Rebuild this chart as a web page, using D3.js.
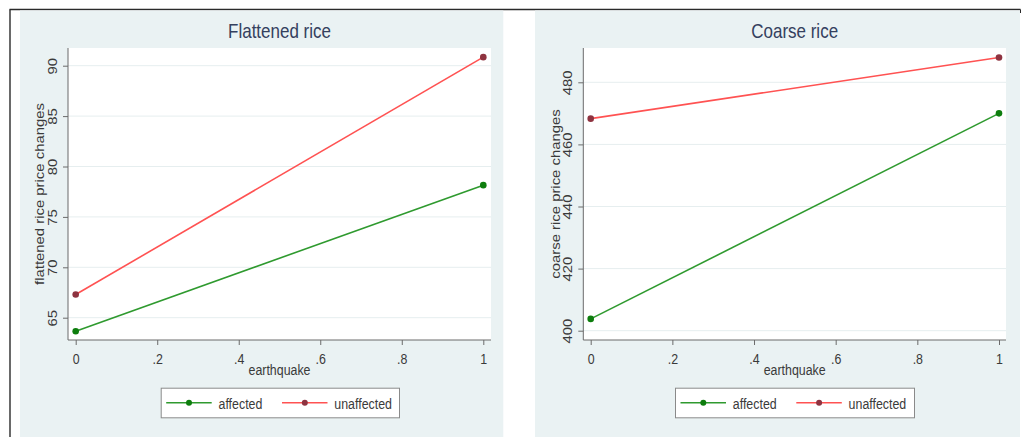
<!DOCTYPE html>
<html><head><meta charset="utf-8">
<script src="https://cdn.jsdelivr.net/npm/d3@7"></script>
<style>body{margin:0;background:#fff;} svg text{font-family:"Liberation Sans",Arial,sans-serif;}</style>
</head><body><svg id="c" width="1021" height="437"></svg>
<script>
// ---- data ----
const earthquake = [0, 1];
const xTickValues = [0, 0.2, 0.4, 0.6, 0.8, 1];
const xTickLabels = ["0", ".2", ".4", ".6", ".8", "1"];
const seriesNames = ["affected", "unaffected"];
const panelTitles = ["Flattened rice", "Coarse rice"];
const yAxisTitles = ["flattened rice price changes", "coarse rice price changes"];
const xAxisTitle = "earthquake";
const flattenedAffected = [63.65, 78.15];
const flattenedUnaffected = [67.3, 90.85];
const coarseAffected = [403.8, 470.0];
const coarseUnaffected = [468.3, 488.0];
const flattenedYTicks = [65, 70, 75, 80, 85, 90];
const coarseYTicks = [400, 420, 440, 460, 480];

// ---- styles / layout ----
const lineColors = ["#2f9a2f", "#ff5252"];
const markerColors = ["#0d7d0d", "#8e3340"];
const textColor = "#3a3a3a";
const titleColor = "#34405e";
const axisColor = "#6b6b6b";
const panelBg = "#eaf2f3";
const SY = 1.2; // vertical stretch of the original raster

const panels = [
  {bg:[20, 503.3], plot:[68, 491, 48, 340], xr:[75.7, 483.3], ydom:[65, 90], yr:[317.7, 65.7],
   ticks: flattenedYTicks, series:[flattenedAffected, flattenedUnaffected], legend:[160.7, 387.7, 238.3, 29.6],
   yTitleX: 44},
  {bg:[535, 1020], plot:[583.3, 1006, 48, 340], xr:[590.7, 999], ydom:[400, 480], yr:[330.7, 82.3],
   ticks: coarseYTicks, series:[coarseAffected, coarseUnaffected], legend:[675, 387.7, 239, 29.6],
   yTitleX: 560}
];

const svg = d3.select("#c");

// outer frame
svg.append("line").attr("x1", 9.5).attr("x2", 1020.5).attr("y1", 9.5).attr("y2", 9.5)
  .attr("stroke", "#2a2a2a").attr("stroke-width", 1.4);
svg.append("line").attr("x1", 10).attr("x2", 10).attr("y1", 9.5).attr("y2", 437)
  .attr("stroke", "#2a2a2a").attr("stroke-width", 1.4);
svg.append("line").attr("x1", 1020.5).attr("x2", 1020.5).attr("y1", 9.5).attr("y2", 13)
  .attr("stroke", "#2a2a2a").attr("stroke-width", 1);

panels.forEach((p, i) => {
  const g = svg.append("g");
  g.append("rect").attr("x", p.bg[0]).attr("y", 10.5).attr("width", p.bg[1] - p.bg[0]).attr("height", 427)
    .attr("fill", panelBg);
  const [px0, px1, py0, py1] = p.plot;
  g.append("rect").attr("x", px0).attr("y", py0).attr("width", px1 - px0).attr("height", py1 - py0)
    .attr("fill", "#ffffff");

  const x = d3.scaleLinear().domain([0, 1]).range(p.xr);
  const y = d3.scaleLinear().domain(p.ydom).range(p.yr);

  // grid
  g.append("g").selectAll("line").data(p.ticks).join("line")
    .attr("x1", px0).attr("x2", px1).attr("y1", d => y(d)).attr("y2", d => y(d))
    .attr("stroke", "#e6eeef").attr("stroke-width", 1);

  // y axis
  const ya = g.append("g").attr("transform", `translate(${px0},0)`)
    .call(d3.axisLeft(y).tickValues(p.ticks).tickSize(5).tickSizeOuter(0));
  ya.select(".domain").remove();
  ya.selectAll(".tick line").attr("stroke", axisColor);
  ya.selectAll(".tick text").attr("x", null).attr("dy", null)
    .attr("text-anchor", "middle").attr("fill", textColor).attr("font-size", 12.4)
    .attr("transform", `translate(-11,0) rotate(-90) scale(${SY},1)`);

  // x axis
  const xa = g.append("g").attr("transform", `translate(0,${py1})`)
    .call(d3.axisBottom(x).tickValues(xTickValues).tickSize(5).tickSizeOuter(0)
      .tickFormat((d, k) => xTickLabels[k]));
  xa.select(".domain").remove();
  xa.selectAll(".tick line").attr("stroke", axisColor);
  xa.selectAll(".tick text").attr("y", null).attr("dy", null)
    .attr("text-anchor", "middle").attr("fill", textColor).attr("font-size", 12.4)
    .attr("transform", `translate(0,23.5) scale(1,${SY})`);

  // axis lines
  g.append("line").attr("x1", px0).attr("x2", px0).attr("y1", py0).attr("y2", py1)
    .attr("stroke", axisColor).attr("stroke-width", 1);
  g.append("line").attr("x1", px0).attr("x2", px1).attr("y1", py1).attr("y2", py1)
    .attr("stroke", axisColor).attr("stroke-width", 1);

  // titles
  const cx = (px0 + px1) / 2;
  g.append("text").text(panelTitles[i]).attr("text-anchor", "middle").attr("fill", titleColor)
    .attr("font-size", 17).attr("transform", `translate(${cx},38) scale(1,${SY})`);
  g.append("text").text(xAxisTitle).attr("text-anchor", "middle").attr("fill", textColor)
    .attr("font-size", 12.4).attr("transform", `translate(${cx},375) scale(1,${SY})`);
  g.append("text").text(yAxisTitles[i]).attr("text-anchor", "middle").attr("fill", textColor)
    .attr("font-size", 12.4).attr("transform", `translate(${p.yTitleX},${(py0 + py1) / 2}) rotate(-90) scale(${SY},1)`);

  // series
  const line = d3.line().x(d => x(d[0])).y(d => y(d[1]));
  p.series.forEach((vals, s) => {
    const pts = earthquake.map((e, k) => [e, vals[k]]);
    g.append("path").attr("d", line(pts)).attr("fill", "none")
      .attr("stroke", lineColors[s]).attr("stroke-width", 1.6);
    g.append("g").selectAll("circle").data(pts).join("circle")
      .attr("cx", d => x(d[0])).attr("cy", d => y(d[1])).attr("r", 3.3)
      .attr("fill", markerColors[s]);
  });

  // legend
  const [lx, ly, lw, lh] = p.legend;
  const lg = g.append("g").attr("transform", `translate(${lx},${ly})`);
  lg.append("rect").attr("x", 0.5).attr("y", 0.5).attr("width", lw).attr("height", lh)
    .attr("fill", "#fff").attr("stroke", "#8a8a8a").attr("stroke-width", 1);
  const offs = [5.5, 121.3];
  seriesNames.forEach((name, s) => {
    const o = offs[s];
    lg.append("line").attr("x1", o).attr("x2", o + 45.5).attr("y1", 15).attr("y2", 15)
      .attr("stroke", lineColors[s]).attr("stroke-width", 1.6);
    lg.append("circle").attr("cx", o + 22.8).attr("cy", 15).attr("r", 3).attr("fill", markerColors[s]);
    lg.append("text").text(name).attr("fill", textColor).attr("font-size", 12.4)
      .attr("transform", `translate(${o + 52.3},20.8) scale(1,${SY})`);
  });
});
</script></body></html>
